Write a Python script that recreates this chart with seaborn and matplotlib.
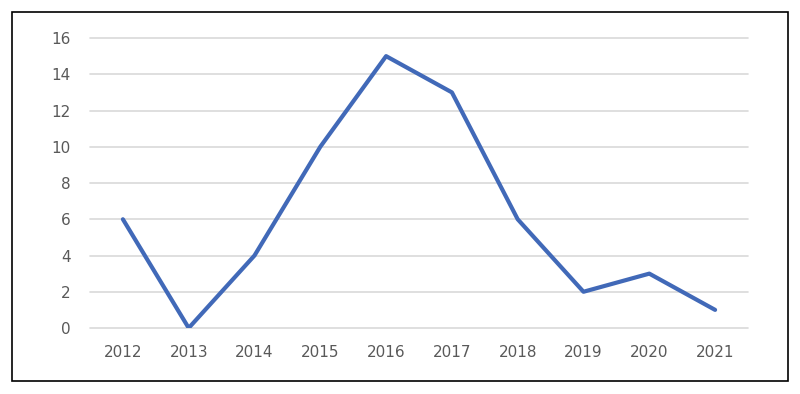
import seaborn as sns
import matplotlib.pyplot as plt
from matplotlib.patches import Rectangle
import pandas as pd

years = ['2012', '2013', '2014', '2015', '2016', '2017', '2018', '2019', '2020', '2021']
counts = [6, 0, 4, 10, 15, 13, 6, 2, 3, 1]
y_ticks = [0, 2, 4, 6, 8, 10, 12, 14, 16]


def main():
    df = pd.DataFrame({'year': years, 'count': counts})

    sns.set_style('white')
    fig = plt.figure(figsize=(8, 3.94), dpi=100)
    ax = fig.add_axes([0.1125, 0.1675, 0.8225, 0.736])

    sns.lineplot(data=df, x='year', y='count', color='#4169B8', linewidth=3, ax=ax,
                 sort=False, solid_capstyle='round', solid_joinstyle='round')

    ax.set_xlim(-0.5, len(years) - 0.5)
    ax.set_ylim(0, 16)
    ax.set_yticks(y_ticks)
    ax.yaxis.grid(True, color='#D9D9D9', linewidth=1.2)
    ax.set_axisbelow(True)
    # don't let the top/bottom gridlines get clipped in half
    for gl in ax.yaxis.get_gridlines():
        gl.set_clip_on(False)
    for s in ax.spines.values():
        s.set_visible(False)
    ax.tick_params(axis='both', length=0, labelsize=11, labelcolor='#595959')
    ax.tick_params(axis='y', pad=14)
    ax.tick_params(axis='x', pad=12)
    ax.set_xlabel('')
    ax.set_ylabel('')

    # chart border
    fig.patches.append(Rectangle((0.015, 0.033), 0.97, 0.9365, transform=fig.transFigure,
                                 fill=False, edgecolor='black', linewidth=1.2))

    fig.savefig('out.png', dpi=100)


main()
